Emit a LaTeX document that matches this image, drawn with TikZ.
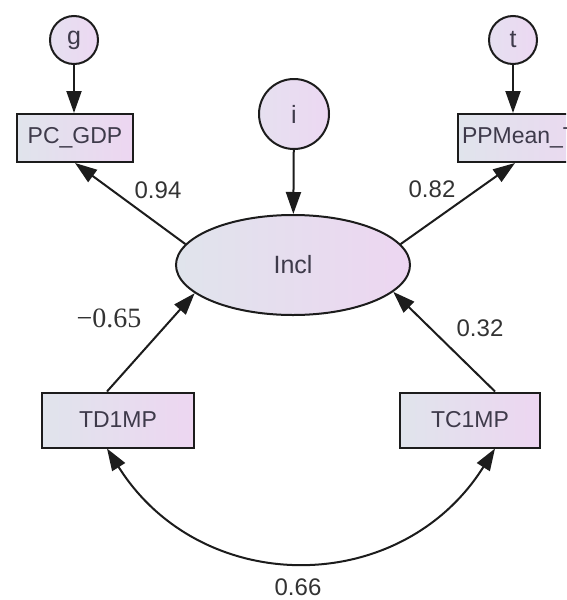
\documentclass[tikz,border=0pt]{standalone}
\usepackage[no-math]{fontspec}
\setmainfont{Liberation Sans}
\newfontfamily\serifnum{Liberation Serif}
\usetikzlibrary{arrows.meta,shapes.geometric}
\definecolor{edge}{HTML}{1C1C1C}
\definecolor{txt}{HTML}{3E3A4A}
\definecolor{num}{HTML}{333333}
\definecolor{fillL}{HTML}{E0E4EC}
\definecolor{fillR}{HTML}{EDD6F1}
\definecolor{circL}{HTML}{E6E0F0}
\definecolor{circR}{HTML}{ECD8F2}
\tikzset{
  box/.style={draw=edge,line width=2pt,left color=fillL,right color=fillR,
    text=txt,font=\fontsize{23}{26}\selectfont,inner sep=0pt},
  err/.style={circle,draw=edge,line width=2pt,left color=circL,right color=circR,
    text=txt,font=\fontsize{25}{28}\selectfont,inner sep=0pt,minimum size=48pt},
  lat/.style={ellipse,draw=edge,line width=2pt,left color=fillL,right color=fillR,
    text=txt,font=\fontsize{25}{28}\selectfont,inner sep=0pt,
    minimum width=234pt,minimum height=100pt},
  path/.style={draw=edge,line width=2pt,-{Triangle[length=22pt,width=15pt]}},
  cov/.style={draw=edge,line width=2pt,{Triangle[length=22pt,width=15pt]}-{Triangle[length=22pt,width=15pt]}},
  coef/.style={text=num,font=\fontsize{24}{27}\selectfont,inner sep=0pt}
}
\begin{document}
\begin{tikzpicture}[x=1pt,y=-1pt]
\useasboundingbox (0,0) rectangle (566,600);
\clip (0,0) rectangle (566,600);
\fill[white] (0,0) rectangle (566,600);
% nodes
\node[err] (g) at (74,40) {g};
\node[err] (t) at (513,40) {t};
\node[err,minimum size=70pt] (i) at (294,114) {i};
\node[box,minimum width=116pt,minimum height=48pt] (pc) at (75,138) {PC\_GDP};
\node[box,anchor=west,minimum width=150pt,minimum height=48pt,align=left,
      text width=142pt,inner xsep=4pt] (pp) at (457,138) {PPMean\_T};
\node[lat] (incl) at (293,265) {Incl};
\node[box,minimum width=152pt,minimum height=55pt] (td) at (118,420) {TD1MP};
\node[box,minimum width=140pt,minimum height=55pt] (tc) at (470,420) {TC1MP};
% connectors
\draw[path] (g) -- (pc.north -| g);
\draw[path] (t) -- ([xshift=56pt]pp.north west);
\draw[path] (i) -- (incl);
\draw[path] (incl.169) -- (pc.south);
\draw[path] (incl.11) -- ([xshift=58pt]pp.south west);
\draw[path] ([xshift=-11pt]td.north) -- (incl.196);
\draw[path] ([xshift=25pt]tc.north) -- (incl.345);
\draw[cov] ([xshift=-11pt]td.south) .. controls (201,598) and (401,598) .. ([xshift=25pt]tc.south);
% labels
\node[coef] (l94) at (158,190) {0.94};
\node[coef] (l82) at (432,189) {0.82};
\node[coef,font=\serifnum\fontsize{28}{30}\selectfont] (l65) at (109,318) {−0.65};
\node[coef] (l32) at (480,328) {0.32};
\node[coef] (l66) at (298,587) {0.66};
\end{tikzpicture}
\end{document}
